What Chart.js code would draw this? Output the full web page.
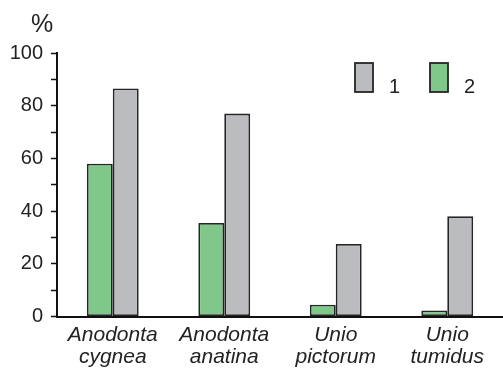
<!DOCTYPE html>
<html><head><meta charset="utf-8">
<script src="https://cdn.jsdelivr.net/npm/chart.js@4/dist/chart.umd.min.js"></script>
<style>html,body{margin:0;padding:0;background:#fff}#wrap{width:503px;height:369px}</style>
</head><body><div id="wrap"><canvas id="c" width="503" height="369"></canvas></div>
<script>
const categories = [['Anodonta','cygnea'],['Anodonta','anatina'],['Unio','pictorum'],['Unio','tumidus']];
const series1 = [86.5, 77, 27.5, 38];
const series2 = [58, 35.5, 4.5, 2.3];
const seriesNames = ['1','2'];
const yTicks = [0,20,40,60,80,100];
const yUnit = '%';

const GRAY = '#bbbcc0', GREEN = '#80c88a', EDGE = '#252525';
const FONT = '"Liberation Sans", Arial, sans-serif';

const overlay = {
  id: 'overlay',
  afterDraw(chart) {
    const ctx = chart.ctx;
    ctx.save();
    ctx.fillStyle = '#222';
    ctx.textBaseline = 'alphabetic';
    ctx.textAlign = 'left';
    ctx.font = '25px ' + FONT;
    ctx.fillText(yUnit, 31, 32);
    ctx.font = '20px ' + FONT;
    // legend
    const items = [{c: GRAY, t: seriesNames[0], x: 355}, {c: GREEN, t: seriesNames[1], x: 430}];
    items.forEach(it => {
      ctx.fillStyle = it.c;
      ctx.fillRect(it.x, 63, 18, 29);
      ctx.strokeStyle = EDGE; ctx.lineWidth = 1.8;
      ctx.strokeRect(it.x, 63, 18, 29);
      ctx.fillStyle = '#222';
      ctx.fillText(it.t, it.x + 34, 93);
    });
    ctx.restore();
  }
};

new Chart(document.getElementById('c'), {
  type: 'bar',
  data: {
    labels: categories,
    datasets: [
      {label: seriesNames[1], data: series2, backgroundColor: GREEN, borderColor: EDGE, borderWidth: 1.8, borderSkipped: false},
      {label: seriesNames[0], data: series1, backgroundColor: GRAY, borderColor: EDGE, borderWidth: 1.8, borderSkipped: false}
    ]
  },
  options: {
    responsive: false, animation: false,
    layout: {padding: {top: 53, left: 0, right: 0, bottom: 0}},
    plugins: {legend: {display: false}, tooltip: {enabled: false}},
    datasets: {bar: {barPercentage: 1, categoryPercentage: 0.465}},
    scales: {
      x: {
        grid: {display: false, drawTicks: false},
        border: {display: true, color: '#111', width: 2},
        ticks: {color: '#222', font: {family: FONT, size: 21, style: 'italic', lineHeight: 1.05}, padding: 8, maxRotation: 0, autoSkip: false},
        afterFit(s) { s.height = 52.5; }
      },
      y: {
        min: 0, max: 100,
        grid: {display: true, drawOnChartArea: false, drawTicks: true, tickLength: 6, tickColor: '#111', tickWidth: 1.5},
        border: {display: true, color: '#111', width: 2},
        ticks: {stepSize: 10, autoSkip: false, color: '#222', font: {family: FONT, size: 20}, padding: 8,
          callback: v => yTicks.includes(v) ? String(v) : ''},
        afterFit(s) { s.width = 57; }
      }
    }
  },
  plugins: [overlay]
});
</script></body></html>
